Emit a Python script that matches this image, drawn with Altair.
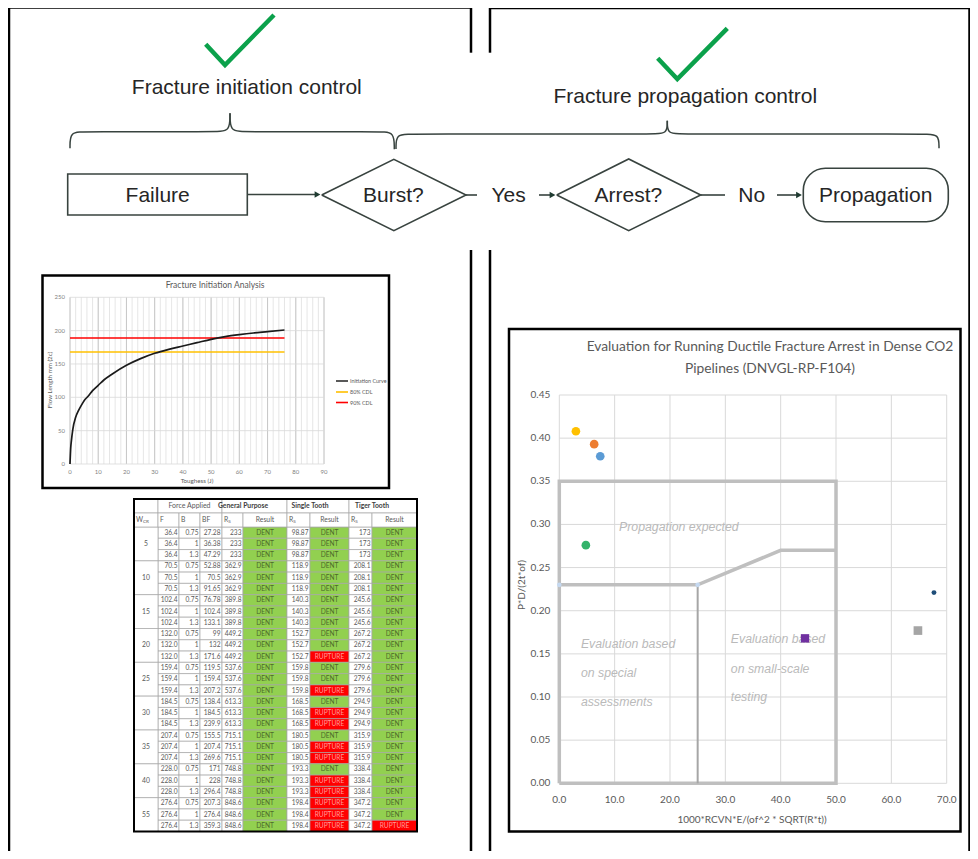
import altair as alt
import pandas as pd

# ============================ DATA ============================
# Flow chart texts
FLOW_HEADINGS = ["Fracture initiation control", "Fracture propagation control"]
FLOW_NODES = ["Failure", "Burst?", "Arrest?", "Propagation"]
FLOW_EDGE_LABELS = ["Yes", "No"]

# Left chart: Fracture Initiation Analysis
LC_TITLE = "Fracture Initiation Analysis"
LC_X_TITLE = "Toughess (J)"
LC_Y_TITLE = "Flow Length mm (2c)"
TOUGHNESS_J = [0, 0.25, 0.5, 1, 2, 3, 4, 5, 6.5, 8, 10, 12, 15, 20, 25, 30, 35, 40, 45, 50, 55, 60, 65, 70, 76]
FLAW_LENGTH_MM = [0, 24, 35, 52, 70, 80, 88, 95, 102, 110, 118, 126, 135, 148, 158, 166, 172, 177, 182, 187,
                  191, 194, 196.5, 198.5, 201]
CDL_NAMES = ["80% CDL", "90% CDL"]
CDL_LEVELS_MM = [168, 189]
CDL_TOUGHNESS_SPAN = [0, 76]
LEGEND_NAMES = ["Initiation Curve", "80% CDL", "90% CDL"]
LC_X_TICKS = [0, 10, 20, 30, 40, 50, 60, 70, 80, 90]
LC_X_MINOR_TICKS = [0, 2, 4, 6, 8, 10, 12, 14, 16, 18, 20, 22, 24, 26, 28, 30, 32, 34, 36, 38, 40, 42, 44, 46,
                    48, 50, 52, 54, 56, 58, 60, 62, 64, 66, 68, 70, 72, 74, 76, 78, 80, 82, 84, 86, 88, 90]
LC_Y_TICKS = [0, 50, 100, 150, 200, 250]

# Table
TB_GROUP_HEADERS = ["", "Force Applied", "General Purpose", "Single Tooth", "Tiger Tooth"]
TB_COL_HEADERS = ["W", "F", "B", "BF", "R", "Result", "R", "Result", "R", "Result"]
W_CR = [5, 10, 15, 20, 25, 30, 35, 40, 55]
FORCE = ["36.4", "70.5", "102.4", "132.0", "159.4", "184.5", "207.4", "228.0", "276.4"]
B_FACTOR = ["0.75", "1", "1.3"]
BF = ["27.28", "36.38", "47.29", "52.88", "70.5", "91.65", "76.78", "102.4", "133.1",
      "99", "132", "171.6", "119.5", "159.4", "207.2", "138.4", "184.5", "239.9",
      "155.5", "207.4", "269.6", "171", "228", "296.4", "207.3", "276.4", "359.3"]
RS_GENERAL = ["233", "362.9", "389.8", "449.2", "537.6", "613.3", "715.1", "748.8", "848.6"]
RS_SINGLE = ["98.87", "118.9", "140.3", "152.7", "159.8", "168.5", "180.5", "193.3", "198.4"]
RS_TIGER = ["173", "208.1", "245.6", "267.2", "279.6", "294.9", "315.9", "338.4", "347.2"]
RESULT_GENERAL = ["DENT"] * 27
RESULT_SINGLE = (["DENT"] * 11 + ["RUPTURE"] + ["DENT", "DENT", "RUPTURE"]
                 + ["DENT", "RUPTURE", "RUPTURE"] * 3 + ["RUPTURE"] * 3)
RESULT_TIGER = ["DENT"] * 26 + ["RUPTURE"]

# Right chart: DNVGL-RP-F104 evaluation
SC_TITLE = ["Evaluation for Running Ductile Fracture Arrest in Dense CO2", "Pipelines (DNVGL-RP-F104)"]
SC_X_TITLE = "1000*RCVN*E/(of^2 * SQRT(R*t))"
SC_Y_TITLE = "P*D/(2t*of)"
SC_X = [3.0, 6.3, 7.4, 4.8, 67.7, 64.8, 44.4]
SC_Y = [0.408, 0.393, 0.379, 0.276, 0.221, 0.177, 0.168]
BOX_X = [0, 0, 50, 50, 0]
BOX_Y = [0, 0.35, 0.35, 0, 0]
ARREST_X = [0, 25, 40, 50]
ARREST_Y = [0.23, 0.23, 0.27, 0.27]
DIVIDER_X = [25, 25]
DIVIDER_Y = [0, 0.23]
SC_X_TICKS = [0, 10, 20, 30, 40, 50, 60, 70]
SC_Y_TICKS = [0, 0.05, 0.10, 0.15, 0.20, 0.25, 0.30, 0.35, 0.40, 0.45]
ANNOT_TEXT = ["Propagation expected", "Evaluation based", "on special", "assessments",
              "Evaluation based", "on small-scale", "testing"]

# ============================ STYLE / LAYOUT ============================
SC_COLORS = ["#FFC000", "#ED7D31", "#5B9BD5", "#34B36B", "#1F4E79", "#A5A5A5", "#7030A0"]
SC_SHAPES = ["circle", "circle", "circle", "circle", "circle", "square", "square"]
SC_SIZES = [75, 75, 75, 75, 24, 75, 70]
ANNOT_POS = [(21.6, 0.2975, "c"), (3.9, 0.1614, "l"), (3.9, 0.1278, "l"), (3.9, 0.0946, "l"),
             (31.0, 0.1672, "l"), (31.0, 0.1325, "l"), (31.0, 0.1000, "l")]

FLOW_STROKE = "#38433f"
FLOW_TEXT = "#262626"
GREEN_CHECK = "#0BA14B"
FONT_FLOW = "Liberation Sans, Arial, sans-serif"
FONT_XL = "Lato, Open Sans, sans-serif"
FONT_ANN = "Liberation Sans, Arial, sans-serif"

W, H = 962, 843


def sc(domain, rng):
    return alt.Scale(domain=domain, range=rng, zero=False, nice=False)


# pixel frame for decorative layout (image coordinates -> chart coordinates)
PXS = sc([0, 978], [-8, 970])
PYS = sc([0, 859], [-8, 851])
# line chart frame
LCX = sc([0, 90], [62, 316])
LCY = sc([0, 250], [456, 289.3])
# table frame (column index / row index -> pixels)
COL_EDGES = [134, 158, 179, 200, 222, 243, 287, 310, 349, 372, 417]
TBX = sc(list(range(11)), [e - 8 for e in COL_EDGES])
TBY = sc([-2, -1, 0, 27], [491, 505, 519, 823.5])
# scatter frame
SCX = sc([0, 70], [551.3, 938.7])
SCY = sc([0, 0.45], [775.3, 387])


def enc(xs, ys, x="x", y="y", x2=None, y2=None, **extra):
    e = dict(x=alt.X(f"{x}:Q", scale=xs, axis=None), y=alt.Y(f"{y}:Q", scale=ys, axis=None))
    if x2:
        e["x2"] = alt.X2(f"{x2}:Q")
    if y2:
        e["y2"] = alt.Y2(f"{y2}:Q")
    e.update(extra)
    return e


def pix(chart, **kw):
    return chart.encode(**enc(PXS, PYS, **kw))


# ============================ PIXEL / DECOR LAYER ============================
panel_rules = pd.DataFrame(
    [(9, 7.5, 471, 7.5), (9, 7.5, 9, 859), (471, 7.5, 471, 52.7), (471, 250, 471, 859),
     (490, 8, 978, 8), (490, 8, 490, 52.7), (490, 250, 490, 859), (969.5, 8, 969.5, 859)],
    columns=["x", "y", "x2", "y2"])
p_panels = pix(alt.Chart(panel_rules).mark_rule(color="black", strokeWidth=2.5), x2="x2", y2="y2")

flow_rules = pd.DataFrame(
    [(247.3, 194.5, 316, 194.5), (466, 195, 477, 195), (539, 195, 551, 195),
     (700.7, 195, 725, 195), (777, 195, 797, 195)], columns=["x", "y", "x2", "y2"])
p_flow_rules = pix(alt.Chart(flow_rules).mark_rule(color=FLOW_STROKE, strokeWidth=1.6), x2="x2", y2="y2")

heads = pd.DataFrame([(317.5, 194.5), (552.5, 195), (799, 195)], columns=["x", "y"])
p_heads = pix(alt.Chart(heads).mark_point(shape="triangle-right", filled=True, size=45,
                                          color="#1f3b31", opacity=1))

diam_rows = []
for did, (l, t, r, b, cy) in enumerate([(321.7, 159.3, 466, 230.7, 195), (556.7, 159, 700.7, 230.7, 195)]):
    cx = (l + r) / 2
    for k, (xx, yy) in enumerate([(l, cy), (cx, t), (r, cy), (cx, b), (l, cy)]):
        diam_rows.append(dict(id=did, o=k, x=xx, y=yy))
p_diam = pix(alt.Chart(pd.DataFrame(diam_rows)).mark_line(color=FLOW_STROKE, strokeWidth=1.6),
             detail="id:N", order="o:Q")

box_fail = pd.DataFrame([dict(x=67.7, x2=247.3, y=174, y2=215)])
p_fail = pix(alt.Chart(box_fail).mark_rect(fill="white", stroke=FLOW_STROKE, strokeWidth=1.6),
             x2="x2", y2="y2")
box_prop = pd.DataFrame([dict(x=803.3, x2=948.3, y=168.3, y2=221.7)])
p_prop = pix(alt.Chart(box_prop).mark_rect(fill="white", stroke=FLOW_STROKE, strokeWidth=1.6,
                                           cornerRadius=22), x2="x2", y2="y2")

brace_paths = [
    [(70, 148.3), (70, 131.7), (84, 131.7), (216, 131.7), (230, 131.7), (230, 113.3)],
    [(230, 113.3), (230, 131.7), (244, 131.7), (380, 131.7), (394.3, 131.7), (394.3, 149.3)],
    [(396, 149), (396, 134), (410, 134), (653, 134), (667.3, 134), (667.3, 120.7)],
    [(667.3, 120.7), (667.3, 134), (681, 134), (925, 134), (939, 134), (939, 148.3)],
]
brace_rows = [dict(id=i, o=k, x=xx, y=yy) for i, pts in enumerate(brace_paths) for k, (xx, yy) in enumerate(pts)]
p_braces = pix(alt.Chart(pd.DataFrame(brace_rows)).mark_line(color=FLOW_STROKE, strokeWidth=1.5,
                                                             interpolate="basis"),
               detail="id:N", order="o:Q")

check_paths = [[(205.7, 44.3), (225, 65), (274, 15)], [(657.7, 58.3), (677.3, 79), (727.3, 28.3)]]
check_rows = [dict(id=i, o=k, x=xx, y=yy) for i, pts in enumerate(check_paths) for k, (xx, yy) in enumerate(pts)]
p_checks = pix(alt.Chart(pd.DataFrame(check_rows)).mark_line(color=GREEN_CHECK, strokeWidth=4.5,
                                                             strokeJoin="miter"),
               detail="id:N", order="o:Q")

flow_text_pos = [(246.8, 88), (685.3, 97)]
node_pos = [(157.7, 195.5), (393.3, 196), (628.3, 196), (875.7, 195.5)]
edge_pos = [(508.5, 195.5), (751.7, 195.5)]
ft = pd.DataFrame(
    [dict(t=s, x=p[0], y=p[1]) for s, p in zip(FLOW_HEADINGS, flow_text_pos)]
    + [dict(t=s, x=p[0], y=p[1]) for s, p in zip(FLOW_NODES, node_pos)]
    + [dict(t=s, x=p[0], y=p[1]) for s, p in zip(FLOW_EDGE_LABELS, edge_pos)])
p_flow_text = pix(alt.Chart(ft).mark_text(font=FONT_FLOW, fontSize=21, color=FLOW_TEXT,
                                          baseline="middle", align="center"), text="t:N")

frames = pd.DataFrame([dict(x=42.5, x2=389, y=275.5, y2=488), dict(x=509, x2=960.5, y=329, y2=831.5)])
p_frames = pix(alt.Chart(frames).mark_rect(fillOpacity=0, stroke="black", strokeWidth=2.5),
               x2="x2", y2="y2")

# line-chart title, axis titles and legend
lc_titles = pd.DataFrame([dict(t=LC_TITLE, x=215, y=285, s=8.5), dict(t=LC_X_TITLE, x=197, y=481, s=6.2)])
p_lc_titles = pix(alt.Chart(lc_titles).mark_text(font=FONT_XL, color="#595959", baseline="middle"),
                  text="t:N", size=alt.Size("s:Q", scale=None))
p_lc_ytitle = pix(alt.Chart(pd.DataFrame([dict(t=LC_Y_TITLE, x=50, y=380)])).mark_text(
    font=FONT_XL, color="#595959", fontSize=6.2, angle=270, baseline="middle"), text="t:N")
legend_colors = ["#303030", "#FFC000", "#FF0000"]
legend_y = [381, 392, 402.5]
leg = pd.DataFrame([dict(t=n, c=c, y=yy, x=336, x2=348, xt=350) for n, c, yy in
                    zip(LEGEND_NAMES, legend_colors, legend_y)])
p_leg_lines = pix(alt.Chart(leg).mark_rule(strokeWidth=1.6), x2="x2", y2="y",
                  color=alt.Color("c:N", scale=None))
p_leg_text = alt.Chart(leg).mark_text(font=FONT_XL, color="#595959", fontSize=5.4, align="left",
                                      baseline="middle").encode(
    x=alt.X("xt:Q", scale=PXS, axis=None), y=alt.Y("y:Q", scale=PYS, axis=None), text="t:N")

# scatter titles
sc_titles = pd.DataFrame([dict(t=SC_TITLE[0], x=770, y=347, s=13.8), dict(t=SC_TITLE[1], x=770, y=368.5, s=13.8),
                          dict(t=SC_X_TITLE, x=752, y=820, s=10)])
p_sc_titles = pix(alt.Chart(sc_titles).mark_text(font=FONT_XL, color="#595959", baseline="middle"),
                  text="t:N", size=alt.Size("s:Q", scale=None))
p_sc_ytitle = pix(alt.Chart(pd.DataFrame([dict(t=SC_Y_TITLE, x=521.7, y=585)])).mark_text(
    font=FONT_XL, color="#595959", fontSize=10, angle=270, baseline="middle"), text="t:N")

decor = alt.layer(p_panels, p_braces, p_checks, p_flow_rules, p_diam, p_fail, p_prop, p_heads,
                  p_flow_text, p_frames, p_lc_titles, p_lc_ytitle, p_leg_lines, p_leg_text,
                  p_sc_titles, p_sc_ytitle)

# ============================ LINE CHART ============================
def lce(**kw):
    return enc(LCX, LCY, **kw)


minor = pd.DataFrame(dict(x=LC_X_MINOR_TICKS, y=0, y2=250))
major = pd.DataFrame(dict(x=LC_X_TICKS, y=0, y2=250))
hgrid = pd.DataFrame(dict(y=LC_Y_TICKS, x=0, x2=90))
l_minor = alt.Chart(minor).mark_rule(color="#e0e0e0", strokeWidth=0.8).encode(**lce(y2="y2"))
l_major = alt.Chart(major).mark_rule(color="#c4c4c4", strokeWidth=0.9).encode(**lce(y2="y2"))
l_hgrid = alt.Chart(hgrid).mark_rule(color="#d9d9d9", strokeWidth=0.8).encode(**lce(x2="x2"))
cdl = pd.DataFrame(dict(name=CDL_NAMES, y=CDL_LEVELS_MM, x=CDL_TOUGHNESS_SPAN[0], x2=CDL_TOUGHNESS_SPAN[1],
                        c=["#FFC000", "#FF0000"]))
l_cdl = alt.Chart(cdl).mark_rule(strokeWidth=1.6).encode(**lce(x2="x2"), color=alt.Color("c:N", scale=None))
curve = pd.DataFrame(dict(x=TOUGHNESS_J, y=FLAW_LENGTH_MM))
l_curve = alt.Chart(curve).mark_line(color="#1a1a1a", strokeWidth=1.7, interpolate="monotone").encode(**lce())
lxt = pd.DataFrame(dict(x=LC_X_TICKS, y=0, t=[str(v) for v in LC_X_TICKS]))
l_xt = alt.Chart(lxt).mark_text(font=FONT_XL, fontSize=6, color="#7f7f7f", dy=8,
                                baseline="middle").encode(**lce(), text="t:N")
lyt = pd.DataFrame(dict(y=LC_Y_TICKS, x=0, t=[str(v) for v in LC_Y_TICKS]))
l_yt = alt.Chart(lyt).mark_text(font=FONT_XL, fontSize=6, color="#7f7f7f", dx=-5, align="right",
                                baseline="middle").encode(**lce(), text="t:N")
linechart = alt.layer(l_minor, l_major, l_hgrid, l_cdl, l_curve, l_xt, l_yt)

# ============================ TABLE ============================
def tbe(**kw):
    return enc(TBX, TBY, **kw)


cells = []
for r in range(27):
    g, k = divmod(r, 3)
    vals = [FORCE[g], B_FACTOR[k], BF[r], RS_GENERAL[g], RESULT_GENERAL[r], RS_SINGLE[g],
            RESULT_SINGLE[r], RS_TIGER[g], RESULT_TIGER[r]]
    for c, v in enumerate(vals, start=1):
        is_res = c in (5, 7, 9)
        fill = "white"
        tcol = "#595959"
        if is_res:
            fill = "#92D050" if v == "DENT" else "#FF0000"
            tcol = "#4d6a2b" if v == "DENT" else "#ff9a9a"
        cells.append(dict(c0=c, c1=c + 1, cm=c + 0.5, r0=r, r1=r + 1, rm=r + 0.5, t=v,
                          res=is_res, fill=fill, tc=tcol))
cells = pd.DataFrame(cells)
groups = pd.DataFrame([dict(c0=0, c1=1, cm=0.5, r0=3 * g, r1=3 * g + 3, rm=3 * g + 1.5, t=str(w))
                       for g, w in enumerate(W_CR)])
hdr1_span = [(0, 1), (1, 4), (4, 6), (6, 8), (8, 10)]
hdr1 = pd.DataFrame([dict(c0=a, c1=b, cm=(a + b) / 2, r0=-2, r1=-1, rm=-1.5, t=t, bold=i > 1)
                     for i, (t, (a, b)) in enumerate(zip(TB_GROUP_HEADERS, hdr1_span))])
hdr2 = pd.DataFrame([dict(c0=i, c1=i + 1, cm=i + 0.5, r0=-1, r1=0, rm=-0.5, t=t,
                          center=(t == "Result")) for i, t in enumerate(TB_COL_HEADERS)])
all_rects = pd.concat([cells[["c0", "c1", "r0", "r1", "fill"]],
                       groups.assign(fill="white")[["c0", "c1", "r0", "r1", "fill"]],
                       hdr1.assign(fill="white")[["c0", "c1", "r0", "r1", "fill"]],
                       hdr2.assign(fill="white")[["c0", "c1", "r0", "r1", "fill"]]])
t_rects = alt.Chart(all_rects).mark_rect(stroke="#a6a6a6", strokeWidth=0.7).encode(
    **tbe(x="c0", x2="c1", y="r0", y2="r1"), fill=alt.Fill("fill:N", scale=None))
t_nums = alt.Chart(cells[~cells.res]).mark_text(font=FONT_XL, fontSize=6.6, color="#595959", align="right",
                                                dx=-1.5, baseline="middle").encode(
    **tbe(x="c1", y="rm"), text="t:N")
t_res = alt.Chart(cells[cells.res]).mark_text(font=FONT_XL, fontSize=6.6, align="center",
                                              baseline="middle").encode(
    **tbe(x="cm", y="rm"), text="t:N", color=alt.Color("tc:N", scale=None))
t_groups = alt.Chart(groups).mark_text(font=FONT_XL, fontSize=6.8, color="#595959",
                                       baseline="middle").encode(**tbe(x="cm", y="rm"), text="t:N")
t_h1n = alt.Chart(hdr1[~hdr1.bold]).mark_text(font=FONT_XL, fontSize=7, color="#595959",
                                              baseline="middle").encode(**tbe(x="cm", y="rm"), text="t:N")
t_h1b = alt.Chart(hdr1[hdr1.bold]).mark_text(font=FONT_XL, fontSize=6.8, fontWeight="bold", color="#404040",
                                             baseline="middle").encode(**tbe(x="cm", y="rm"), text="t:N")
t_h2l = alt.Chart(hdr2[~hdr2.center]).mark_text(font=FONT_XL, fontSize=6.8, color="#595959", align="left",
                                                dx=2, baseline="middle").encode(**tbe(x="c0", y="rm"), text="t:N")
t_h2c = alt.Chart(hdr2[hdr2.center]).mark_text(font=FONT_XL, fontSize=6.8, color="#595959",
                                               baseline="middle").encode(**tbe(x="cm", y="rm"), text="t:N")
sub_cr = hdr2[hdr2.t == "W"].assign(s="CR")
sub_s = hdr2[hdr2.t == "R"].assign(s="S")
t_sub1 = alt.Chart(sub_cr).mark_text(font=FONT_XL, fontSize=4.6, color="#595959", align="left", dx=9, dy=2,
                                     baseline="middle").encode(**tbe(x="c0", y="rm"), text="s:N")
t_sub2 = alt.Chart(sub_s).mark_text(font=FONT_XL, fontSize=4.6, color="#595959", align="left", dx=6.2, dy=2,
                                    baseline="middle").encode(**tbe(x="c0", y="rm"), text="s:N")
outer = pd.DataFrame([dict(c0=0, c1=10, r0=-2, r1=27)])
t_outer = alt.Chart(outer).mark_rect(fillOpacity=0, stroke="black", strokeWidth=2).encode(
    **tbe(x="c0", x2="c1", y="r0", y2="r1"))
table = alt.layer(t_rects, t_nums, t_res, t_groups, t_h1n, t_h1b, t_h2l, t_h2c, t_sub1, t_sub2, t_outer)

# ============================ SCATTER ============================
def sce(**kw):
    return enc(SCX, SCY, **kw)


s_vgrid = alt.Chart(pd.DataFrame(dict(x=SC_X_TICKS, y=0, y2=0.45))).mark_rule(
    color="#d9d9d9", strokeWidth=1).encode(**sce(y2="y2"))
s_hgrid = alt.Chart(pd.DataFrame(dict(y=SC_Y_TICKS, x=0, x2=70))).mark_rule(
    color="#d9d9d9", strokeWidth=1).encode(**sce(x2="x2"))
bound = pd.concat([
    pd.DataFrame(dict(id="box", o=range(len(BOX_X)), x=BOX_X, y=BOX_Y)),
    pd.DataFrame(dict(id="arrest", o=range(len(ARREST_X)), x=ARREST_X, y=ARREST_Y)),
])
s_bound = alt.Chart(bound).mark_line(color="#bfbfbf", strokeWidth=3.5, strokeJoin="miter").encode(
    **sce(), detail="id:N", order="o:Q")
s_div = alt.Chart(pd.DataFrame(dict(o=[0, 1], x=DIVIDER_X, y=DIVIDER_Y))).mark_line(
    color="#a6a6a6", strokeWidth=2).encode(**sce(), order="o:Q")
s_vtx = alt.Chart(pd.DataFrame(dict(x=ARREST_X[:2], y=ARREST_Y[:2]))).mark_point(
    filled=True, color="#c5d9f1", size=22, opacity=1).encode(**sce())
pts = pd.DataFrame(dict(x=SC_X, y=SC_Y, c=SC_COLORS, shp=SC_SHAPES, s=SC_SIZES))
s_pts = alt.Chart(pts).mark_point(filled=True, opacity=1).encode(
    **sce(), color=alt.Color("c:N", scale=None), shape=alt.Shape("shp:N", scale=None),
    size=alt.Size("s:Q", scale=None))
s_xt = alt.Chart(pd.DataFrame(dict(x=SC_X_TICKS, y=0, t=[f"{v:.1f}" for v in SC_X_TICKS]))).mark_text(
    font=FONT_XL, fontSize=10, color="#595959", dy=17, baseline="middle").encode(**sce(), text="t:N")
s_yt = alt.Chart(pd.DataFrame(dict(y=SC_Y_TICKS, x=0, t=[f"{v:.2f}" for v in SC_Y_TICKS]))).mark_text(
    font=FONT_XL, fontSize=10, color="#595959", dx=-9, align="right", baseline="middle").encode(
    **sce(), text="t:N")
ann = pd.DataFrame([dict(t=t, x=p[0], y=p[1], a=p[2]) for t, p in zip(ANNOT_TEXT, ANNOT_POS)])
s_ann_c = alt.Chart(ann[ann.a == "c"]).mark_text(font=FONT_ANN, fontStyle="italic", fontSize=12.3,
                                                 color="#bababa", baseline="middle").encode(**sce(), text="t:N")
s_ann_l = alt.Chart(ann[ann.a == "l"]).mark_text(font=FONT_ANN, fontStyle="italic", fontSize=12.3,
                                                 color="#bababa", align="left",
                                                 baseline="middle").encode(**sce(), text="t:N")
scatter = alt.layer(s_vgrid, s_hgrid, s_ann_c, s_ann_l, s_bound, s_div, s_vtx, s_pts, s_xt, s_yt)

# ============================ COMPOSE ============================
chart = alt.layer(decor, linechart, table, scatter).resolve_scale(
    x="independent", y="independent").properties(
    width=W, height=H, padding=0, autosize=alt.AutoSizeParams(type="none"),
    background="white").configure_view(stroke=None)

chart.save("out.html", embed_options={"renderer": "svg", "actions": False})
